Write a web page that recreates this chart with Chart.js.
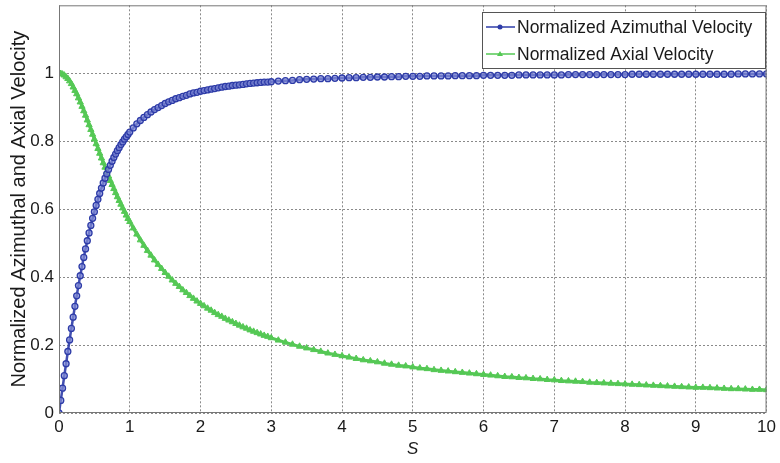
<!DOCTYPE html>
<html>
<head>
<meta charset="utf-8">
<script src="https://cdn.jsdelivr.net/npm/chart.js@4/dist/chart.umd.min.js"></script>
<style>
  html, body { margin: 0; padding: 0; background: #fff; }
  #wrap { width: 780px; height: 463px; }
</style>
</head>
<body>
<div id="wrap"><canvas id="velChart"></canvas></div>
<script>
// S values (denser near the origin where the curves change fast)
const sValues = [
  0, 0.025, 0.05, 0.075, 0.1, 0.125, 0.15, 0.175, 0.2, 0.225, 0.25, 0.275, 0.3, 0.325, 0.35, 0.375,
  0.4, 0.425, 0.45, 0.475, 0.5, 0.525, 0.55, 0.575, 0.6, 0.625, 0.65, 0.675, 0.7, 0.725, 0.75, 0.775,
  0.8, 0.825, 0.85, 0.875, 0.9, 0.925, 0.95, 0.975, 1.0,
  1.05, 1.1, 1.15, 1.2, 1.25, 1.3, 1.35, 1.4, 1.45, 1.5, 1.55, 1.6, 1.65, 1.7, 1.75, 1.8, 1.85, 1.9, 1.95, 2.0,
  2.05, 2.1, 2.15, 2.2, 2.25, 2.3, 2.35, 2.4, 2.45, 2.5, 2.55, 2.6, 2.65, 2.7, 2.75, 2.8, 2.85, 2.9, 2.95, 3.0,
  3.1, 3.2, 3.3, 3.4, 3.5, 3.6, 3.7, 3.8, 3.9, 4.0, 4.1, 4.2, 4.3, 4.4, 4.5, 4.6, 4.7, 4.8, 4.9, 5.0,
  5.1, 5.2, 5.3, 5.4, 5.5, 5.6, 5.7, 5.8, 5.9, 6.0, 6.1, 6.2, 6.3, 6.4, 6.5, 6.6, 6.7, 6.8, 6.9, 7.0,
  7.1, 7.2, 7.3, 7.4, 7.5, 7.6, 7.7, 7.8, 7.9, 8.0, 8.1, 8.2, 8.3, 8.4, 8.5, 8.6, 8.7, 8.8, 8.9, 9.0,
  9.1, 9.2, 9.3, 9.4, 9.5, 9.6, 9.7, 9.8, 9.9, 10.0
];

const azimuthal = [
  0, 0.037, 0.073, 0.110, 0.145, 0.181, 0.215, 0.249, 0.282, 0.314, 0.345, 0.375, 0.404, 0.431, 0.458, 0.483,
  0.507, 0.530, 0.552, 0.573, 0.592, 0.611, 0.629, 0.646, 0.662, 0.677, 0.691, 0.704, 0.717, 0.729, 0.741, 0.752,
  0.762, 0.772, 0.781, 0.790, 0.798, 0.806, 0.813, 0.820, 0.827,
  0.839, 0.851, 0.861, 0.870, 0.878, 0.886, 0.893, 0.899, 0.905, 0.911, 0.916, 0.920, 0.925, 0.928, 0.932, 0.935, 0.939, 0.942, 0.944, 0.947,
  0.949, 0.951, 0.953, 0.955, 0.957, 0.959, 0.961, 0.962, 0.964, 0.965, 0.966, 0.967, 0.969, 0.970, 0.971, 0.972, 0.973, 0.974, 0.974, 0.975,
  0.977, 0.978, 0.979, 0.981, 0.982, 0.983, 0.984, 0.984, 0.985, 0.986, 0.987, 0.987, 0.988, 0.988, 0.989, 0.989, 0.990, 0.990, 0.991, 0.991,
  0.991, 0.992, 0.992, 0.992, 0.992, 0.993, 0.993, 0.993, 0.993, 0.994, 0.994, 0.994, 0.994, 0.994, 0.995, 0.995, 0.995, 0.995, 0.995, 0.995,
  0.995, 0.996, 0.996, 0.996, 0.996, 0.996, 0.996, 0.996, 0.996, 0.996, 0.997, 0.997, 0.997, 0.997, 0.997, 0.997, 0.997, 0.997, 0.997, 0.997,
  0.997, 0.997, 0.997, 0.997, 0.997, 0.998, 0.998, 0.998, 0.998, 0.998
];

const axial = [
  1.000, 0.999, 0.997, 0.994, 0.989, 0.984, 0.977, 0.969, 0.959, 0.949, 0.939, 0.927, 0.915, 0.902, 0.889, 0.876,
  0.862, 0.848, 0.834, 0.820, 0.806, 0.792, 0.778, 0.764, 0.750, 0.736, 0.723, 0.710, 0.697, 0.684, 0.672, 0.660,
  0.648, 0.636, 0.625, 0.614, 0.603, 0.593, 0.582, 0.572, 0.563,
  0.544, 0.526, 0.509, 0.493, 0.478, 0.464, 0.450, 0.437, 0.425, 0.413, 0.402, 0.391, 0.381, 0.372, 0.362, 0.354, 0.345, 0.337, 0.329, 0.322,
  0.315, 0.308, 0.302, 0.295, 0.289, 0.284, 0.278, 0.273, 0.268, 0.263, 0.258, 0.253, 0.249, 0.244, 0.240, 0.236, 0.232, 0.228, 0.225, 0.221,
  0.214, 0.208, 0.202, 0.196, 0.191, 0.186, 0.181, 0.176, 0.172, 0.168, 0.164, 0.160, 0.156, 0.153, 0.150, 0.146, 0.143, 0.140, 0.138, 0.135,
  0.132, 0.130, 0.127, 0.125, 0.123, 0.121, 0.119, 0.117, 0.115, 0.113, 0.111, 0.109, 0.107, 0.106, 0.104, 0.103, 0.101, 0.100, 0.098, 0.097,
  0.095, 0.094, 0.093, 0.092, 0.090, 0.089, 0.088, 0.087, 0.086, 0.085, 0.084, 0.083, 0.082, 0.081, 0.080, 0.079, 0.078, 0.077, 0.076, 0.075,
  0.075, 0.074, 0.073, 0.072, 0.071, 0.071, 0.070, 0.069, 0.069, 0.068
];

const yTicks = [0, 0.2, 0.4, 0.6, 0.8, 1];
const seriesNames = ['Normalized Azimuthal Velocity', 'Normalized Axial Velocity'];

const BLUE = '#2e3ca8';
const GREEN = '#55c855';
const FONT = '"Liberation Sans", Arial, sans-serif';

function toPoints(ys) {
  return sValues.map(function (s, i) { return { x: s, y: ys[i] }; });
}

// box around the plot area + legend box in the upper right, matlab style
const boxAndLegend = {
  id: 'boxAndLegend',
  afterDatasetsDraw: function (chart) {
    const ctx = chart.ctx;
    const a = chart.chartArea;
    ctx.save();
    ctx.strokeStyle = '#777';
    ctx.lineWidth = 1;
    ctx.setLineDash([]);
    ctx.strokeRect(a.left + 0.5, a.top + 0.5, a.right - a.left - 1, a.bottom - a.top - 1);

    // legend
    const lx = 482, ly = 12, lw = 283, lh = 56;
    ctx.fillStyle = '#fff';
    ctx.fillRect(lx, ly, lw, lh);
    ctx.strokeStyle = '#555';
    ctx.strokeRect(lx + 0.5, ly + 0.5, lw, lh);
    ctx.font = '17.5px ' + FONT;
    ctx.textBaseline = 'middle';
    chart.data.datasets.forEach(function (ds, i) {
      const cy = ly + 15 + i * 27;
      ctx.strokeStyle = ds.pointBorderColor;
      ctx.lineWidth = 1.5;
      ctx.beginPath();
      ctx.moveTo(lx + 4, cy);
      ctx.lineTo(lx + 33, cy);
      ctx.stroke();
      ctx.fillStyle = ds.pointBorderColor;
      ctx.beginPath();
      if (i === 0) {
        ctx.arc(lx + 18, cy, 2.5, 0, Math.PI * 2);
      } else {
        ctx.moveTo(lx + 18, cy - 3);
        ctx.lineTo(lx + 21, cy + 2);
        ctx.lineTo(lx + 15, cy + 2);
        ctx.closePath();
      }
      ctx.fill();
      ctx.fillStyle = '#1a1a1a';
      ctx.fillText(ds.label, lx + 35, cy + 1);
    });
    ctx.restore();
  }
};

const ctx = document.getElementById('velChart');
new Chart(ctx, {
  type: 'line',
  data: {
    datasets: [{
      label: seriesNames[0],
      data: toPoints(azimuthal),
      borderColor: 'rgba(46,60,168,0.9)',
      backgroundColor: 'rgba(120,130,210,0.5)',
      borderWidth: 2.5,
      pointStyle: 'circle',
      pointRadius: 3,
      pointBorderWidth: 1.3,
      pointBorderColor: BLUE,
      pointBackgroundColor: 'rgba(130,140,215,0.7)',
      tension: 0
    }, {
      label: seriesNames[1],
      data: toPoints(axial),
      borderColor: GREEN,
      backgroundColor: GREEN,
      borderWidth: 3,
      pointStyle: 'triangle',
      pointRadius: 3.6,
      pointBorderWidth: 1,
      pointBorderColor: GREEN,
      pointBackgroundColor: GREEN,
      tension: 0
    }]
  },
  options: {
    responsive: true,
    maintainAspectRatio: false,
    animation: false,
    layout: { padding: { top: 5, right: 12, left: 0, bottom: 0 } },
    plugins: {
      legend: { display: false },
      tooltip: { enabled: false }
    },
    scales: {
      x: {
        type: 'linear',
        min: 0,
        max: 10,
        afterFit: function (scale) { scale.height = 50; },
        ticks: {
          stepSize: 1,
          color: '#1a1a1a',
          font: { family: FONT, size: 17 },
          padding: 4
        },
        grid: {
          color: '#8a8a8a',
          lineWidth: 1,
          drawTicks: false
        },
        border: { display: false, dash: [2, 2] },
        title: {
          display: true,
          text: 'S',
          color: '#1a1a1a',
          font: { family: FONT, size: 17, style: 'italic' },
          padding: { top: 0 }
        }
      },
      y: {
        min: 0,
        max: 1.2,
        afterFit: function (scale) {
          scale.width = 59;
          scale.paddingTop = 0; // top tick (1) is well below the top edge
        },
        afterBuildTicks: function (scale) {
          scale.ticks = yTicks.map(function (v) { return { value: v }; });
        },
        ticks: {
          color: '#1a1a1a',
          font: { family: FONT, size: 17 },
          padding: 5,
          callback: function (value) { return String(Math.round(value * 10) / 10); }
        },
        grid: {
          color: '#8a8a8a',
          lineWidth: 1,
          drawTicks: false
        },
        border: { display: false, dash: [2, 2] },
        title: {
          display: true,
          text: 'Normalized Azimuthal and Axial Velocity',
          color: '#1a1a1a',
          font: { family: FONT, size: 20 },
          padding: { top: 7, bottom: 0 }
        }
      }
    }
  },
  plugins: [boxAndLegend]
});
</script>
</body>
</html>
